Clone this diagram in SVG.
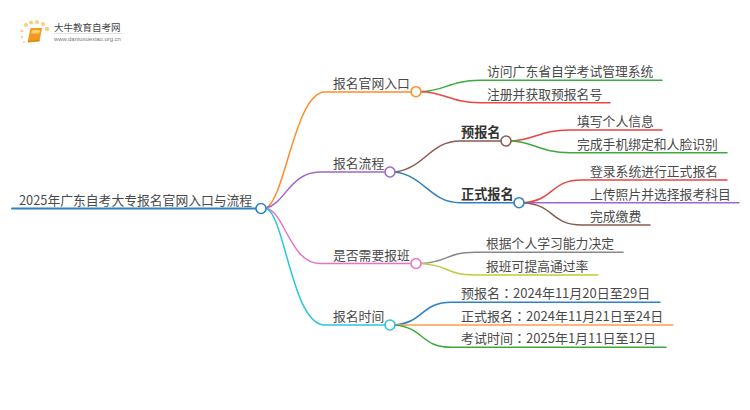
<svg xmlns="http://www.w3.org/2000/svg" width="750" height="410" viewBox="0 0 750 410">
<style>
text{font-family:"Noto Sans CJK SC","Liberation Sans",sans-serif;font-size:12.800px;fill:#4a4a4a}
.b{font-weight:700;fill:#333;font-size:13.200px}
.t{font-size:13px}
.k{font-family:"Noto Sans CJK TC","Liberation Sans",sans-serif}
.c path{fill:none;stroke-width:1.5;stroke-linecap:round}
.n{fill:#fff;stroke-width:1.6}
</style>
<rect width="750" height="410" fill="#fff"/>
<g id="logo">
<g fill="#f8c45c" opacity=".8"><circle cx="26" cy="25" r="2"/><circle cx="31" cy="22.500" r="2"/><circle cx="37" cy="22" r="2"/><circle cx="43" cy="24" r="2"/><circle cx="47" cy="29" r="2.200"/><circle cx="22" cy="31" r="1.300"/><circle cx="22" cy="37" r="1.200"/><circle cx="24" cy="42" r="1"/></g>
<path d="M30.500 28h11.500l-2.500 13.500-12 1z" fill="#f29a1f"/><path d="M32 30h8l-.7 3.500h-8z" fill="#fbd070"/>
<path d="M28 41.500l11.500-1" stroke="#d97f12" stroke-width="1.200"/>
<text x="54" y="31" style="font-size:9.500px;fill:#444">大牛教育自考网</text>
<path d="M54 33.500h68" stroke="#ccc" stroke-width=".6"/>
<text x="54" y="41" style="font-size:5.900px;font-family:'Liberation Sans',sans-serif;fill:#777">www.daniuxuexiao.org.cn</text>
</g>
<g id="connectors" class="c">
<path d="M12 208.500H256" stroke="#2f81c1" style="stroke-width:2"/>
<path d="M266 208C285 200 295 92 325 92H411" stroke="#ff8c26"/>
<path d="M266 208C285 204 290 172 320 172H385" stroke="#a067c8"/>
<path d="M266 208C285 212 290 263.500 320 263.500H411" stroke="#e872c8"/>
<path d="M266 208C285 215 292 325 325 325H385" stroke="#2cc6dc"/>
<path d="M421 91.700C445 91 450 80.300 480 80.300H662" stroke="#3caa3c"/>
<path d="M421 91.700C445 92 450 102.700 480 102.700H610" stroke="#e84545"/>
<path d="M395 172C425 168 430 141 460 141H501" stroke="#8c5a4e"/>
<path d="M395 172C425 176 430 202.700 460 202.700H514" stroke="#2f81c1"/>
<path d="M511 141C535 140 540 130 570 130H662" stroke="#e84545"/>
<path d="M511 141C535 142 540 152.700 570 152.700H727" stroke="#3caa3c"/>
<path d="M524 202.700C555 200 550 180 582 180H727" stroke="#e84545"/>
<path d="M524 202.700H739" stroke="#a067c8"/>
<path d="M524 202.700C555 205 550 225 582 225H650" stroke="#8c5a4e"/>
<path d="M421 263.500C450 262 445 252.300 475 252.300H623" stroke="#888"/>
<path d="M421 263.500C450 265 445 275 475 275H598" stroke="#c8c83c"/>
<path d="M395 325C425 322 420 302.300 452 302.300H660" stroke="#2f81c1"/>
<path d="M395 325H673" stroke="#ff9c50"/>
<path d="M395 325C425 328 420 347.300 452 347.300H666" stroke="#3caa3c"/>
</g>
<g id="root"><text x="19" y="204.500">2025年广东自考大专报名官网入口与流程</text><circle class="n" cx="261" cy="208.500" r="5" stroke="#2f81c1"/></g>
<g id="n1"><text x="333" y="87.500">报名官网入口</text><circle class="n" cx="416" cy="91.700" r="5" stroke="#ff8c26"/></g>
<g id="n2"><text x="333" y="168">报名流程</text><circle class="n" cx="390" cy="172" r="5" stroke="#a067c8"/></g>
<g id="n3"><text x="333" y="259.500">是否需要报班</text><circle class="n" cx="416" cy="263.500" r="5" stroke="#e872c8"/></g>
<g id="n4"><text x="333" y="321">报名时间</text><circle class="n" cx="390" cy="325" r="5" stroke="#2cc6dc"/></g>
<g id="n5"><text class="b" x="461" y="137">预报名</text><circle class="n" cx="506" cy="141" r="5" stroke="#8c5a4e"/></g>
<g id="n6"><text class="b" x="461" y="199">正式报名</text><circle class="n" cx="519" cy="202.700" r="5" stroke="#2f81c1"/></g>
<g id="leaves">
<text x="487" y="76">访问广东省自学考试管理系统</text>
<text x="487" y="98.500">注册并获取预报名号</text>
<text x="577" y="126">填写个人信息</text>
<text x="577" y="148.500">完成手机绑定和人脸识别</text>
<text x="590" y="176">登录系统进行正式报名</text>
<text x="590" y="198.500">上传照片并选择报考科目</text>
<text x="590" y="221">完成缴费</text>
<text x="486" y="248">根据个人学习能力决定</text>
<text x="486" y="271">报班可提高通过率</text>
<text class="t" x="461" y="298">预报名<tspan class="k">：</tspan>2024年11月20日至29日</text>
<text class="t" x="461" y="320.500">正式报名<tspan class="k">：</tspan>2024年11月21日至24日</text>
<text class="t" x="461" y="343">考试时间<tspan class="k">：</tspan>2025年1月11日至12日</text>
</g>
</svg>
